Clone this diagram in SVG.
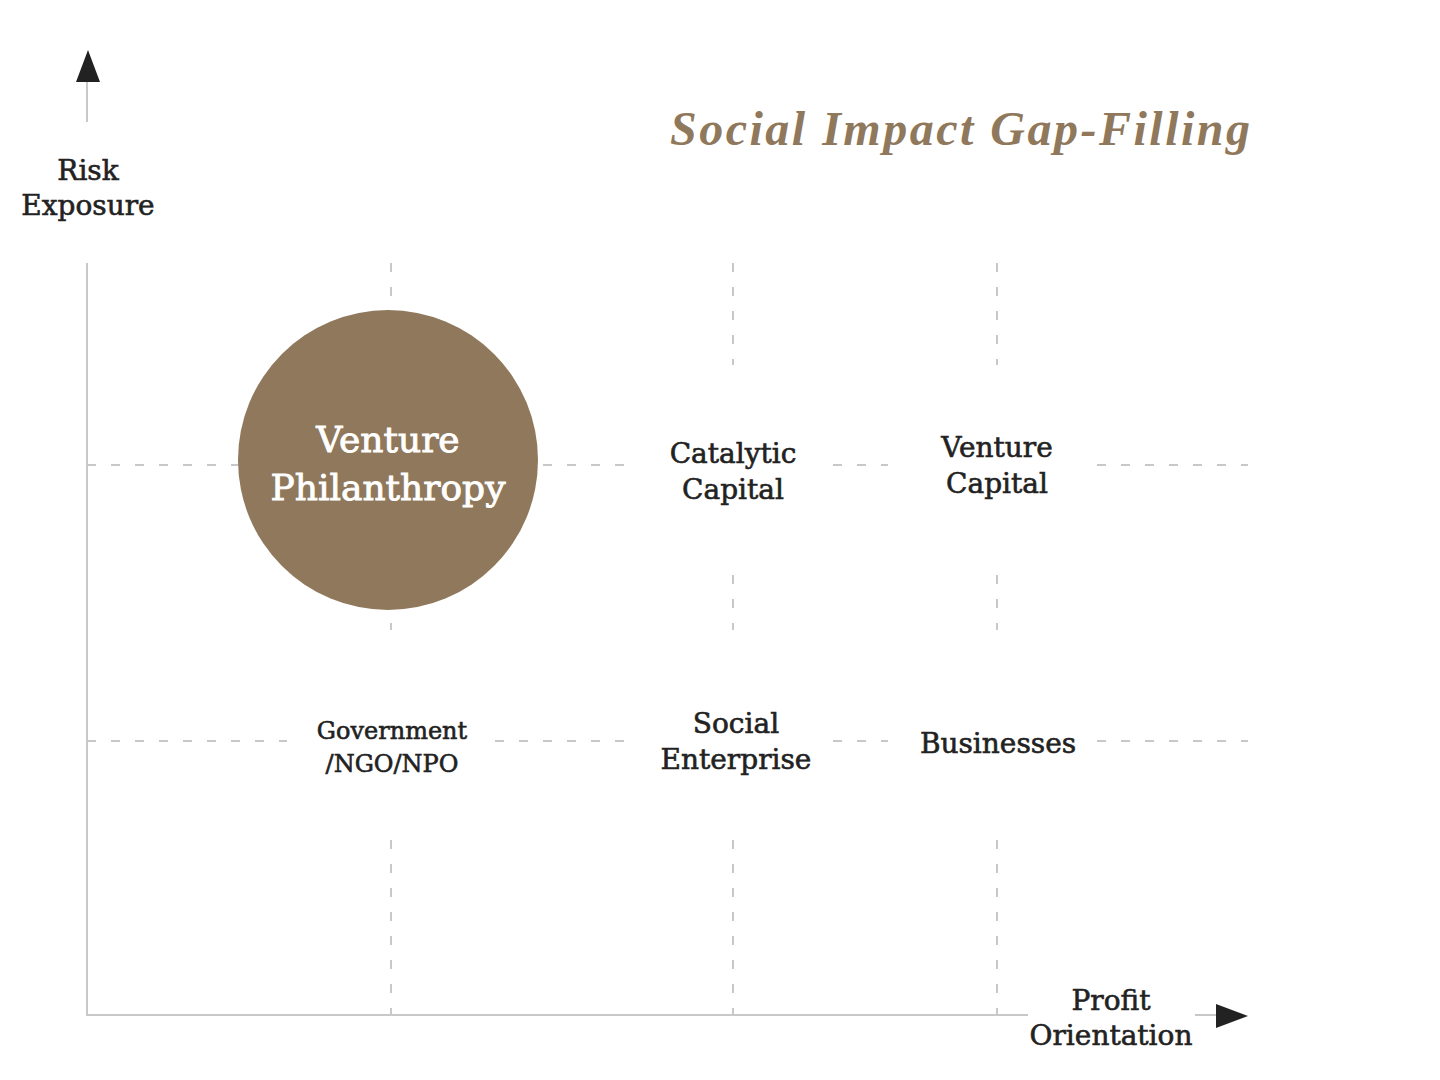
<svg xmlns="http://www.w3.org/2000/svg" width="1440" height="1080" viewBox="0 0 1440 1080">
<style>
.axis{stroke:#c8c8c8;stroke-width:2;fill:none}
.grid{stroke:#c8c8c8;stroke-width:2;fill:none;stroke-dasharray:9 15}
.head{fill:#222}
.lbl{font-family:"DejaVu Serif","Liberation Serif",serif;fill:#222;text-anchor:middle;stroke:#222;stroke-width:0.6}
.wh{font-family:"DejaVu Serif","Liberation Serif",serif;fill:#fff;text-anchor:middle;stroke:#fff;stroke-width:0.9}
.title{font-family:"Liberation Serif","Times New Roman",serif;font-style:italic;font-weight:bold;fill:#8f785b}
</style>
<rect width="1440" height="1080" fill="#fff"/>
<g id="connectors">
  <line class="grid" x1="391" y1="263" x2="391" y2="630"/>
  <line class="grid" x1="391" y1="840" x2="391" y2="1015"/>
  <line class="grid" x1="733" y1="263" x2="733" y2="365"/>
  <line class="grid" x1="733" y1="575" x2="733" y2="630"/>
  <line class="grid" x1="733" y1="840" x2="733" y2="1015"/>
  <line class="grid" x1="997" y1="263" x2="997" y2="365"/>
  <line class="grid" x1="997" y1="575" x2="997" y2="630"/>
  <line class="grid" x1="997" y1="840" x2="997" y2="1015"/>
  <line class="grid" x1="87" y1="465" x2="625" y2="465"/>
  <line class="grid" x1="833" y1="465" x2="888" y2="465"/>
  <line class="grid" x1="1097" y1="465" x2="1248" y2="465"/>
  <line class="grid" x1="87" y1="741" x2="287" y2="741"/>
  <line class="grid" x1="495" y1="741" x2="625" y2="741"/>
  <line class="grid" x1="833" y1="741" x2="888" y2="741"/>
  <line class="grid" x1="1097" y1="741" x2="1248" y2="741"/>
  <line class="axis" x1="87" y1="263" x2="87" y2="1015"/>
  <line class="axis" x1="86" y1="1015" x2="1028" y2="1015"/>
  <line class="axis" x1="87" y1="82" x2="87" y2="122"/>
  <line class="axis" x1="1195" y1="1015" x2="1216" y2="1015"/>
  <polygon class="head" points="88,50 100,82 76,82"/>
  <polygon class="head" points="1248,1016 1216,1004 1216,1028"/>
</g>
<g id="title">
  <text class="title" x="670" y="145" font-size="48" letter-spacing="2.5">Social Impact Gap-Filling</text>
</g>
<g id="y-axis-label">
  <text class="lbl" x="88" y="180" font-size="28">Risk</text>
  <text class="lbl" x="88" y="215" font-size="28">Exposure</text>
</g>
<g id="x-axis-label">
  <text class="lbl" x="1111" y="1010" font-size="28">Profit</text>
  <text class="lbl" x="1111" y="1045" font-size="28">Orientation</text>
</g>
<g id="venture-philanthropy">
  <circle cx="388" cy="460" r="150" fill="#8f785b"/>
  <text class="wh" x="388" y="452" font-size="36">Venture</text>
  <text class="wh" x="388" y="500" font-size="36">Philanthropy</text>
</g>
<g id="catalytic-capital">
  <text class="lbl" x="733" y="463" font-size="28">Catalytic</text>
  <text class="lbl" x="733" y="499" font-size="28">Capital</text>
</g>
<g id="venture-capital">
  <text class="lbl" x="997" y="457" font-size="28">Venture</text>
  <text class="lbl" x="997" y="493" font-size="28">Capital</text>
</g>
<g id="government">
  <text class="lbl" x="392" y="739" font-size="24">Government</text>
  <text class="lbl" x="392" y="772" font-size="24">/NGO/NPO</text>
</g>
<g id="social-enterprise">
  <text class="lbl" x="736" y="733" font-size="28">Social</text>
  <text class="lbl" x="736" y="769" font-size="28">Enterprise</text>
</g>
<g id="businesses">
  <text class="lbl" x="998" y="753" font-size="28">Businesses</text>
</g>
</svg>
